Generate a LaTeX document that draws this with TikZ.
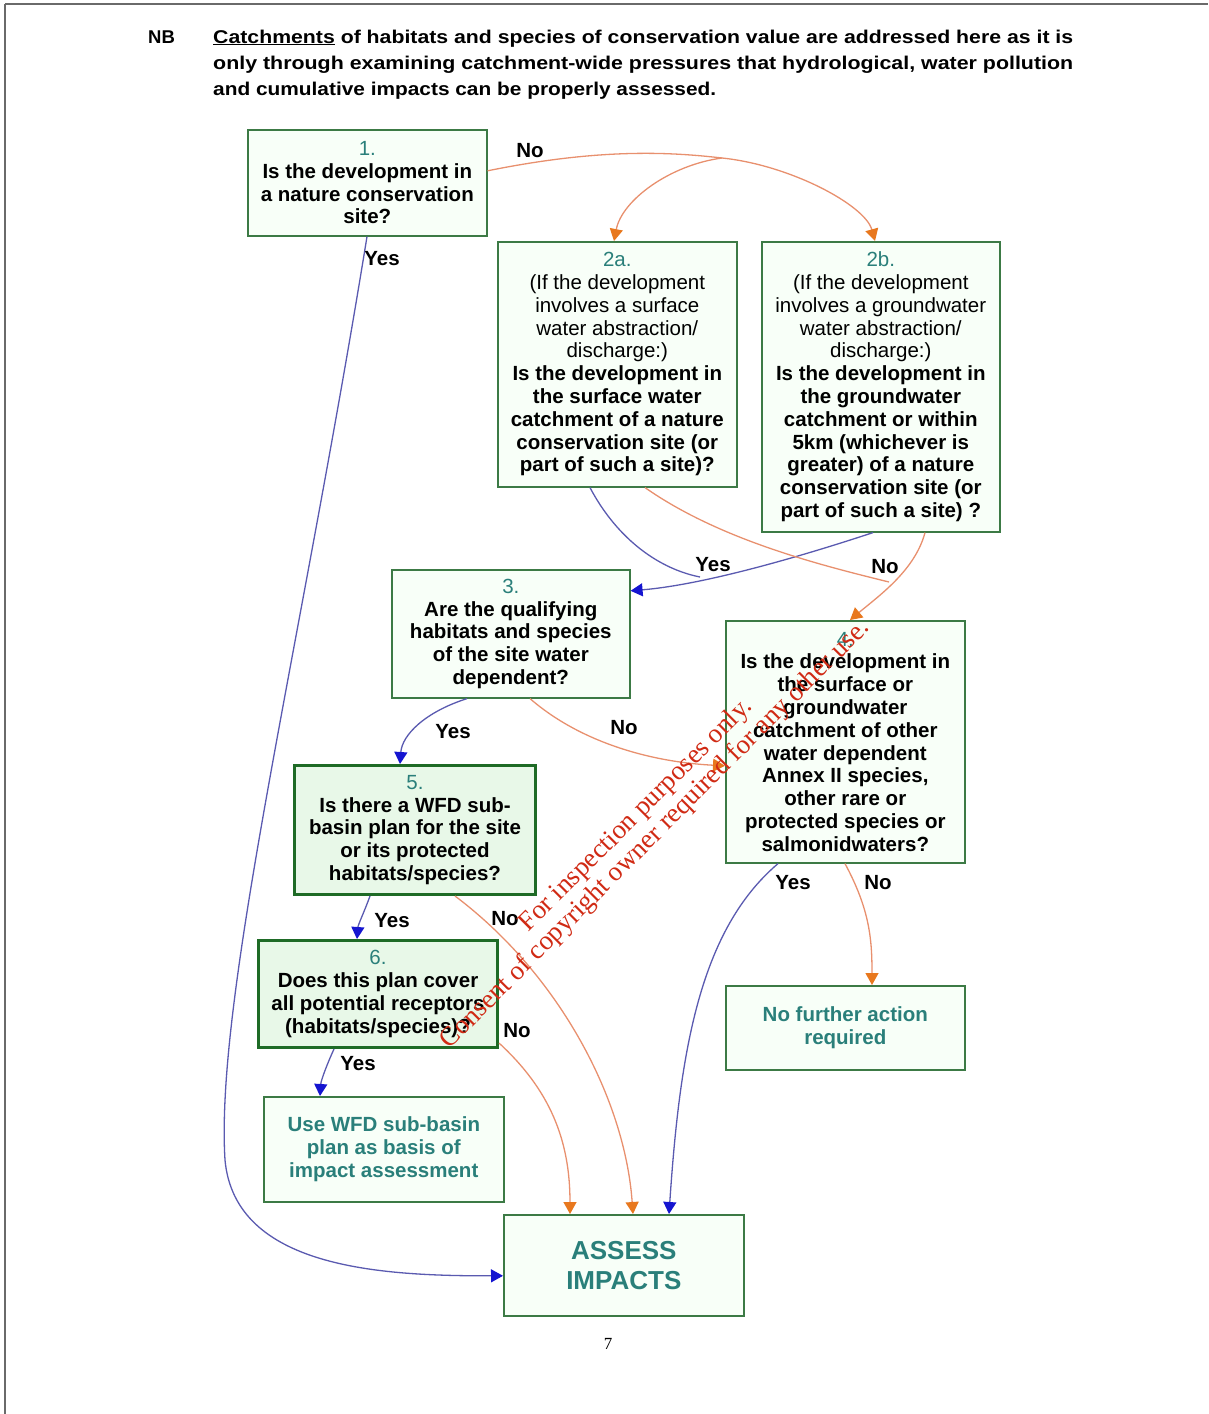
\documentclass[tikz,border=0pt]{standalone}
\usepackage{fontspec}
\setmainfont{Liberation Sans}
\newfontfamily\wmfont{Liberation Serif}
\usetikzlibrary{arrows.meta}
\definecolor{boxgreen}{HTML}{3C7A45}
\definecolor{darkgreen}{HTML}{1E6B26}
\definecolor{boxfill}{HTML}{F8FFF8}
\definecolor{greenfill}{HTML}{E8F8E8}
\definecolor{tealc}{HTML}{2A7F7A}
\definecolor{blueline}{HTML}{5A5AB0}
\definecolor{bluehead}{HTML}{1515D0}
\definecolor{orangeline}{HTML}{E8906E}
\definecolor{orangehead}{HTML}{E8781E}
\definecolor{wmred}{HTML}{D02A14}
\definecolor{framegray}{HTML}{6A6A6A}
\newcommand\boxfont{\fontsize{20.5}{22.8}\selectfont}
\newcommand\bigfont{\fontsize{26}{30}\selectfont\bfseries}
\newcommand\hdfont{\fontsize{18.5}{26}\selectfont\bfseries}
\newcommand\fitw[2]{\resizebox{#1}{\height}{#2}}
\tikzset{
  box/.style={draw=boxgreen, line width=1.6pt, fill=boxfill, inner sep=0pt,
    align=center, anchor=north west, font=\boxfont},
  thickbox/.style={box, draw=darkgreen, line width=3pt, fill=greenfill},
  yesline/.style={draw=blueline, line width=1.3pt,
    -{Triangle[length=12pt,width=13pt,color=bluehead]}},
  yesplain/.style={draw=blueline, line width=1.3pt},
  noline/.style={draw=orangeline, line width=1.3pt,
    -{Triangle[length=12pt,width=13pt,color=orangehead]}},
  noplain/.style={draw=orangeline, line width=1.3pt},
  lbl/.style={font=\boxfont\bfseries, inner sep=0pt},
  hd/.style={font=\hdfont, inner sep=0pt, anchor=base west},
}
\begin{document}
\begin{tikzpicture}[x=1pt,y=-1pt]
\useasboundingbox (0,0) rectangle (1208,1414);
% page frame
\draw[framegray, line width=2.5pt] (5,4) -- (1208,4);
\draw[framegray, line width=1.8pt] (5,4) -- (5,1414);

% header
\node[hd] (nb) at (148,43) {NB};
\node[hd] (h1) at (213,43) {\fitw{860pt}{\underline{Catchments} of habitats and species of conservation value are addressed here as it is}};
\node[hd] (h2) at (213,69) {\fitw{860pt}{only through examining catchment-wide pressures that hydrological, water pollution}};
\node[hd] (h3) at (213,95) {\fitw{503pt}{and cumulative impacts can be properly assessed.}};

% boxes
\node[box, minimum width=239pt, minimum height=106pt] (b1) at (247,129)
  {{\color{tealc}1.}\\\textbf{Is the development in}\\\textbf{a nature conservation}\\\textbf{site?}};
\node[box, minimum width=239pt, minimum height=245pt] (b2a) at (497,241)
  {{\color{tealc}2a.}\\(If the development\\involves a surface\\water abstraction/\\discharge:)\\
   \textbf{Is the development in}\\\textbf{the surface water}\\\textbf{catchment of a nature}\\\textbf{conservation site (or}\\\textbf{part of such a site)?}};
\node[box, minimum width=238pt, minimum height=290pt] (b2b) at (761,241)
  {{\color{tealc}2b.}\\(If the development\\involves a groundwater\\water abstraction/\\discharge:)\\
   \textbf{Is the development in}\\\textbf{the groundwater}\\\textbf{catchment or within}\\\textbf{5km (whichever is}\\\textbf{greater) of a nature}\\\textbf{conservation site (or}\\\textbf{part of such a site) ?}};
\node[box, minimum width=238pt, minimum height=128pt] (b3) at (391,569)
  {{\color{tealc}3.}\\\textbf{Are the qualifying}\\\textbf{habitats and species}\\\textbf{of the site water}\\\textbf{dependent?}};
\node[box, minimum width=239pt, minimum height=242pt] (b4) at (725,620)
  {{\color{tealc}4.}\\\textbf{Is the development in}\\\textbf{the surface or}\\\textbf{groundwater}\\\textbf{catchment of other}\\\textbf{water dependent}\\\textbf{Annex II species,}\\\textbf{other rare or}\\\textbf{protected species or}\\\textbf{salmonidwaters?}};
\node[thickbox, minimum width=241pt, minimum height=129pt] (b5) at (293,764)
  {{\color{tealc}5.}\\\textbf{Is there a WFD sub-}\\\textbf{basin plan for the site}\\\textbf{or its protected}\\\textbf{habitats/species?}};
\node[thickbox, minimum width=239pt, minimum height=107pt] (b6) at (257,939)
  {{\color{tealc}6.}\\\textbf{Does this plan cover}\\\textbf{all potential receptors}\\\textbf{(habitats/species)?}};
\node[box, minimum width=240pt, minimum height=105pt, text=tealc] (buse) at (263,1096)
  {\textbf{Use WFD sub-basin}\\\textbf{plan as basis of}\\\textbf{impact assessment}};
\node[box, minimum width=239pt, minimum height=84pt, text=tealc] (bnfa) at (725,985)
  {\textbf{No further action}\\\textbf{required}};
\node[box, minimum width=240pt, minimum height=101pt, text=tealc, font=\bigfont] (bass) at (503,1214)
  {ASSESS\\IMPACTS};

% connectors
\coordinate (split) at (722,158);
\draw[noplain] ([yshift=12pt]b1.east) .. controls (600,148) and (670,152) .. (split);
\draw[noline] (split) .. controls (790,165) and (865,205) .. ([xshift=114pt]b2b.north west);
\draw[noline] (split) .. controls (670,165) and (622,200) .. ([xshift=117pt]b2a.north west);

\draw[yesline] ([xshift=120pt]b1.south west) .. controls (300,650) and (215,1000) .. (225,1160)
  .. controls (235,1268) and (380,1276) .. ([yshift=-10.5pt]bass.west);

\coordinate (m1) at (700,577);
\draw[yesline] ([xshift=112pt]b2b.south west) .. controls (790,560) and (700,585) .. ([yshift=43pt]b3.east);
\draw[yesplain] ([xshift=93pt]b2a.south west) .. controls (615,535) and (655,568) .. (m1);

\coordinate (m2) at (889,582);
\draw[noline] ([xshift=164pt]b2b.south west) .. controls (915,570) and (880,595) .. ([xshift=125pt]b4.north west);
\draw[noplain] ([xshift=148pt]b2a.south west) .. controls (720,540) and (820,565) .. (m2);

\draw[yesline] ([xshift=76pt]b3.south west) .. controls (425,712) and (402,735) .. ([xshift=107pt]b5.north west);
\draw[noline] ([xshift=139pt]b3.south west) .. controls (580,742) and (650,762) .. ([yshift=-24pt]b4.west);

\draw[yesline] ([xshift=53pt]b4.south west) .. controls (700,930) and (680,1050) .. ([xshift=166pt]bass.north west);
\draw[noline] ([xshift=120pt]b4.south west) .. controls (870,910) and (872,940) .. ([xshift=147pt]bnfa.north west);

\draw[yesline] ([xshift=77pt]b5.south west) .. controls (365,910) and (358,925) .. ([xshift=100pt]b6.north west);
\draw[noline] ([xshift=162pt]b5.south west) .. controls (560,975) and (625,1100) .. ([xshift=130pt]bass.north west);

\draw[yesline] ([xshift=77pt]b6.south west) .. controls (328,1062) and (321,1080) .. ([xshift=57pt]buse.north west);
\draw[noline] ([yshift=6pt]b6.south east) .. controls (550,1090) and (570,1140) .. ([xshift=67pt]bass.north west);

% labels
\node[lbl] (l1) at (530,151) {No};
\node[lbl] (l2) at (382,259) {Yes};
\node[lbl] (l3) at (713,565) {Yes};
\node[lbl] (l4) at (885,567) {No};
\node[lbl] (l5) at (453,732) {Yes};
\node[lbl] (l6) at (624,728) {No};
\node[lbl] (l7) at (793,883) {Yes};
\node[lbl] (l8) at (878,883) {No};
\node[lbl] (l9) at (392,921) {Yes};
\node[lbl] (l10) at (505,919) {No};
\node[lbl] (l11) at (358,1064) {Yes};
\node[lbl] (l12) at (517,1031) {No};

% page number
\node[font=\wmfont\fontsize{17}{20}\selectfont, inner sep=0pt] (pg) at (608,1344) {7};

% watermark
\node[font=\wmfont\fontsize{27}{27}\selectfont, text=wmred, rotate=45, align=center, inner sep=0pt] (wm) at (646,825)
  {For inspection purposes only.\\Consent of copyright owner required for any other use.};
\end{tikzpicture}
\end{document}
